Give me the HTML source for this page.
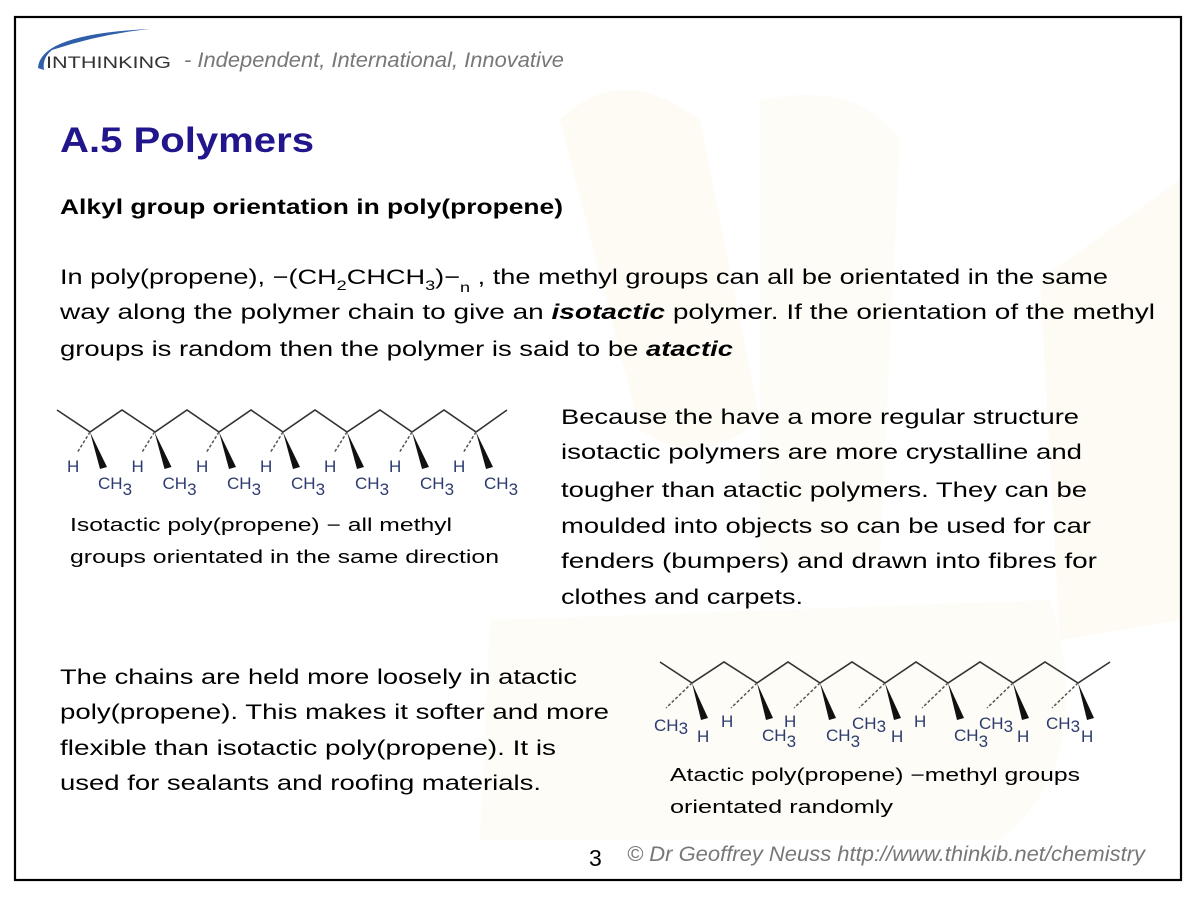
<!DOCTYPE html>
<html><head><meta charset="utf-8"><style>
html,body{margin:0;padding:0;background:#fff;}
svg{display:block;}
text{font-family:"Liberation Sans",sans-serif;}
.b{font-size:21px;fill:#000;}
.m{font-size:17px;fill:#2d3b70;font-family:"Liberation Sans Narrow","Liberation Sans",sans-serif;}
</style></head><body>
<svg width="1196" height="899" viewBox="0 0 1196 899" xmlns="http://www.w3.org/2000/svg">
<rect width="1196" height="899" fill="#fff"/>
<path d="M560 120 Q620 60 700 120 L760 420 Q700 470 640 430 Z" fill="#fdfbf3"/>
<path d="M490 620 L1050 600 Q1100 760 1000 840 L480 840 Z" fill="#fdfcf6"/>
<path d="M760 100 Q860 80 900 140 L880 560 L760 560 Z" fill="#fdfcf6"/>
<path d="M1040 280 L1180 180 L1180 620 L1060 640 Z" fill="#fdfbf3"/>
<rect x="15" y="17" width="1166" height="863" fill="none" stroke="#000" stroke-width="2.2"/>
<path d="M38 68 Q40 34 150 29 Q100 34 52 50 Q42 58 44 70 Z" fill="#2f5fa8"/>
<text x="46" y="68" font-size="17" fill="#333" textLength="125" lengthAdjust="spacingAndGlyphs">INTHINKING</text>
<text x="184" y="67" font-size="21" font-style="italic" fill="#777" textLength="380" lengthAdjust="spacingAndGlyphs">- Independent, International, Innovative</text>
<text x="60" y="152" font-size="35" font-weight="bold" fill="#22168c" textLength="254" lengthAdjust="spacingAndGlyphs">A.5 Polymers</text>
<text x="60" y="214" font-size="21" font-weight="bold" textLength="503" lengthAdjust="spacingAndGlyphs">Alkyl group orientation in poly(propene)</text>
<text class="b" x="60" y="284" textLength="1048" lengthAdjust="spacingAndGlyphs">In poly(propene), −(CH<tspan font-size="14" dy="6">2</tspan><tspan dy="-6">CHCH</tspan><tspan font-size="14" dy="6">3</tspan><tspan dy="-6">)−</tspan><tspan font-size="14" dy="8">n</tspan><tspan dy="-8"> , the methyl groups can all be orientated in the same</tspan></text>
<text class="b" x="60" y="319" textLength="1095" lengthAdjust="spacingAndGlyphs">way along the polymer chain to give an <tspan font-weight="bold" font-style="italic">isotactic</tspan> polymer.  If the orientation of the methyl</text>
<text class="b" x="60" y="356" textLength="673" lengthAdjust="spacingAndGlyphs">groups is random then the polymer is said to be <tspan font-weight="bold" font-style="italic">atactic</tspan></text>
<g class="b">
<text x="561" y="424" textLength="518" lengthAdjust="spacingAndGlyphs">Because the have a more regular structure</text>
<text x="561" y="459" textLength="521" lengthAdjust="spacingAndGlyphs">isotactic polymers are more crystalline and</text>
<text x="561" y="497" textLength="526" lengthAdjust="spacingAndGlyphs">tougher than atactic polymers. They can be</text>
<text x="561" y="533" textLength="530" lengthAdjust="spacingAndGlyphs">moulded into objects so can be used for car</text>
<text x="561" y="568" textLength="536" lengthAdjust="spacingAndGlyphs">fenders (bumpers) and drawn into fibres for</text>
<text x="561" y="604" textLength="242" lengthAdjust="spacingAndGlyphs">clothes and carpets.</text>
<text x="60" y="684" textLength="517" lengthAdjust="spacingAndGlyphs">The chains are held more loosely in atactic</text>
<text x="60" y="719" textLength="549" lengthAdjust="spacingAndGlyphs">poly(propene). This makes it softer and more</text>
<text x="60" y="755" textLength="496" lengthAdjust="spacingAndGlyphs">flexible than isotactic poly(propene). It is</text>
<text x="60" y="790" textLength="481" lengthAdjust="spacingAndGlyphs">used for sealants and roofing materials.</text>
</g>
<g font-size="18">
<text x="70" y="531" textLength="382" lengthAdjust="spacingAndGlyphs">Isotactic poly(propene) − all methyl</text>
<text x="70" y="563" textLength="429" lengthAdjust="spacingAndGlyphs">groups orientated in the same direction</text>
<text x="670" y="781" textLength="410" lengthAdjust="spacingAndGlyphs">Atactic poly(propene) −methyl groups</text>
<text x="670" y="813" textLength="223" lengthAdjust="spacingAndGlyphs">orientated randomly</text>
</g>
<text x="589" y="866" font-size="23">3</text>
<text x="627" y="861" font-size="21" font-style="italic" fill="#777" textLength="518" lengthAdjust="spacingAndGlyphs">© Dr Geoffrey Neuss http://www.thinkib.net/chemistry</text>

<polyline fill="none" stroke="#333" stroke-width="1.6" points="57,410 90,432 122,410 155,432 187,410 219,432 251,410 283,432 315,410 347,432 380,410 412,432 444,410 476,432 507,410"/>
<g id="iso">
<polygon points="90,432 100,469 107,467" fill="#111"/>
<line x1="90" y1="432" x2="77" y2="453" stroke="#555" stroke-width="1.5" stroke-dasharray="3,2"/>
<text class="m" x="67" y="472">H</text>
<text class="m" x="98" y="489">CH<tspan dy="6">3</tspan></text>
</g>
<use href="#iso" x="64.5"/><use href="#iso" x="129"/><use href="#iso" x="193"/><use href="#iso" x="257"/><use href="#iso" x="322"/><use href="#iso" x="386"/>

<polyline fill="none" stroke="#333" stroke-width="1.6" points="660,662 692,683 724,662 757,683 788,662 820,683 852,662 885,683 916,662 948,683 980,662 1013,683 1045,662 1078,683 1110,662"/>
<g id="at">
<polygon points="692,683 701,720 708,718" fill="#111"/>
<line x1="692" y1="683" x2="666" y2="708" stroke="#555" stroke-width="1.5" stroke-dasharray="3,2"/>
</g>
<use href="#at" x="65"/><use href="#at" x="128"/><use href="#at" x="193"/><use href="#at" x="256"/><use href="#at" x="321"/><use href="#at" x="386"/>
<g class="m">
<text x="654" y="731">CH<tspan dy="3">3</tspan></text><text x="697" y="742">H</text>
<text x="721" y="727">H</text><text x="762" y="741">CH<tspan dy="6">3</tspan></text>
<text x="784" y="727">H</text><text x="826" y="741">CH<tspan dy="6">3</tspan></text>
<text x="852" y="729">CH<tspan dy="3">3</tspan></text><text x="891" y="742">H</text>
<text x="914" y="727">H</text><text x="954" y="741">CH<tspan dy="6">3</tspan></text>
<text x="979" y="729">CH<tspan dy="3">3</tspan></text><text x="1017" y="742">H</text>
<text x="1046" y="729">CH<tspan dy="3">3</tspan></text><text x="1081" y="742">H</text>
</g>
</svg>
</body></html>
